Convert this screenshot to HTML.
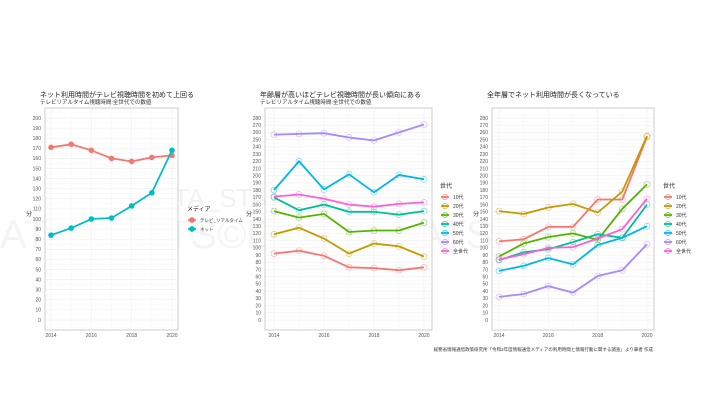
<!DOCTYPE html>
<html><head><meta charset="utf-8"><style>
body{margin:0;background:#fff;width:720px;height:405px;overflow:hidden;font-family:"Liberation Sans","Noto Sans CJK JP",sans-serif}
svg text{font-family:"Liberation Sans","Noto Sans CJK JP",sans-serif}
</style></head><body>
<svg id="c" width="720" height="405">
<text x="120" y="207" font-size="26" fill="#000" opacity="0.05">©DATA_STATSUP</text>
<text x="0" y="248" font-size="40" fill="#000" opacity="0.04">ATA_STATS©DATA_STATSUP</text>
<text x="653" y="351" font-size="4.5" fill="#333" text-anchor="end">総務省情報通信政策研究所「令和2年度情報通信メディアの利用時間と情報行動に関する調査」より筆者 作成</text>
</svg>
<script>
const years=[2014,2015,2016,2017,2018,2019,2020];
const xTicks=[2014,2016,2018,2020];
const p1Names=["テレビ_リアルタイム","ネット"];
const p1Tv=[171,174,168,160,157,161,163];
const p1Net=[84,91,100,101,113,126,168];
const genNames=["10代","20代","30代","40代","50代","60代","全世代"];
const tv10=[92,96,89,73,72,69,73];
const tv20=[119,128,113,92,106,102,88];
const tv30=[151,142,147,122,124,124,135];
const tv40=[170,152,160,150,150,146,151];
const tv50=[180,220,181,202,177,201,195];
const tv60=[257,258,259,253,249,260,271];
const tvAll=[171,174,168,160,157,161,163];
const net10=[109,112,129,129,167,167,254];
const net20=[151,147,156,161,149,178,255];
const net30=[88,106,115,120,111,154,188];
const net40=[83,94,98,108,119,114,160];
const net50=[68,75,86,77,104,114,130];
const net60=[32,36,47,38,61,69,105];
const netAll=[84,91,100,101,113,126,168];
const hue7=["#F8766D","#C49A00","#53B400","#00C094","#00B6EB","#A58AFF","#FB61D7"];
const svg=document.getElementById('c');
const NS="http://www.w3.org/2000/svg";
function mk(t,a,parent){const e=document.createElementNS(NS,t);for(const k in a)e.setAttribute(k,a[k]);(parent||svg).appendChild(e);return e;}
function panel(o){
  const g=mk('g',{});
  
  
  const xs=v=>o.x0+(v-2014)/6*(o.x1-o.x0);
  const ys=v=>320-v*(202/o.ymax);
  mk('rect',{x:o.l,y:108,width:o.r-o.l,height:222,fill:'#fff',stroke:'#ccc','stroke-width':1},g);
  for(let v=0;v<=o.ymax+5;v+=5){if(ys(v)<108)break;mk('line',{x1:o.l,x2:o.r,y1:ys(v),y2:ys(v),stroke:v%10?'#f6f6f6':'#ebebeb','stroke-width':0.5},g);}
  for(let y=2014;y<=2020;y++)mk('line',{x1:xs(y),x2:xs(y),y1:108,y2:330,stroke:y%2?'#f6f6f6':'#ebebeb','stroke-width':0.5},g);
  for(let v=0;v<=o.ymax;v+=10){const t=mk('text',{x:o.l-4,y:ys(v)+1.8,'font-size':5,fill:'#555','text-anchor':'end'},g);t.textContent=v;}
  xTicks.forEach(y=>{const t=mk('text',{x:xs(y),y:337,'font-size':5,fill:'#555','text-anchor':'middle'},g);t.textContent=y;});
  const yt=mk('text',{x:o.l-16,y:216,'font-size':6,fill:'#333','text-anchor':'middle'},g);yt.textContent='分';
  if(o.title){const t=mk('text',{x:o.l-5,y:97,'font-size':7,fill:'#222'},g);t.textContent=o.title;}
  if(o.sub){const t=mk('text',{x:o.l-5,y:104,'font-size':5.5,fill:'#333'},g);t.textContent=o.sub;}
  o.series.forEach((s,i)=>{
    const d=s.map((v,j)=>(j?'L':'M')+xs(years[j]).toFixed(1)+','+ys(v).toFixed(1)).join('');
    const p=mk('path',{d:d,fill:'none',stroke:o.cols[i],'stroke-width':1.8},g);
    
    
    s.forEach((v,j)=>{
      const c=mk('circle',{cx:xs(years[j]),cy:ys(v),r:o.filled?2.8:3,fill:o.filled?o.cols[i]:'none',stroke:o.cols[i],'stroke-width':o.filled?0:0.6,opacity:o.filled?1:0.6},g);
      
      
    });
  });
  const lg=mk('g',{},g);
  
  
  const lt=mk('text',{x:o.lx,y:o.ly,'font-size':6,fill:'#222'},lg);lt.textContent=o.ltitle;
  o.labels.forEach((n,i)=>{
    const y=o.ly+9+i*9;
    const e=mk('g',{},lg);
    
    
    mk('line',{x1:o.lx+1,x2:o.lx+9,y1:y,y2:y,stroke:o.cols[i],'stroke-width':1.8},e);
    mk('circle',{cx:o.lx+5,cy:y,r:2.6,fill:o.filled?o.cols[i]:'none',stroke:o.cols[i],'stroke-width':0.6},e);
    const t=mk('text',{x:o.lx+13,y:y+1.8,'font-size':o.filled?4.5:5,fill:'#333'},e);t.textContent=n;
  });
}
panel({name:'panel-total',l:45,r:178,x0:51,x1:172,ymax:200,title:'ネット利用時間がテレビ視聴時間を初めて上回る',sub:'テレビリアルタイム視聴時間:全世代での数値',series:[p1Tv,p1Net],cols:['#F8766D','#00BFC4'],labels:p1Names,filled:true,lx:187,ly:211,ltitle:'メディア'});
panel({name:'panel-tv-by-age',l:265,r:432,x0:274,x1:424,ymax:280,title:'年齢層が高いほどテレビ視聴時間が長い傾向にある',sub:'テレビリアルタイム視聴時間:全世代での数値',series:[tv10,tv20,tv30,tv40,tv50,tv60,tvAll],cols:hue7,labels:genNames,filled:false,lx:440,ly:188,ltitle:'世代'});
panel({name:'panel-net-by-age',l:492,r:654,x0:499,x1:647,ymax:280,title:'全年層でネット利用時間が長くなっている',sub:'',series:[net10,net20,net30,net40,net50,net60,netAll],cols:hue7,labels:genNames,filled:false,lx:663,ly:188,ltitle:'世代'});
</script>
</body></html>
